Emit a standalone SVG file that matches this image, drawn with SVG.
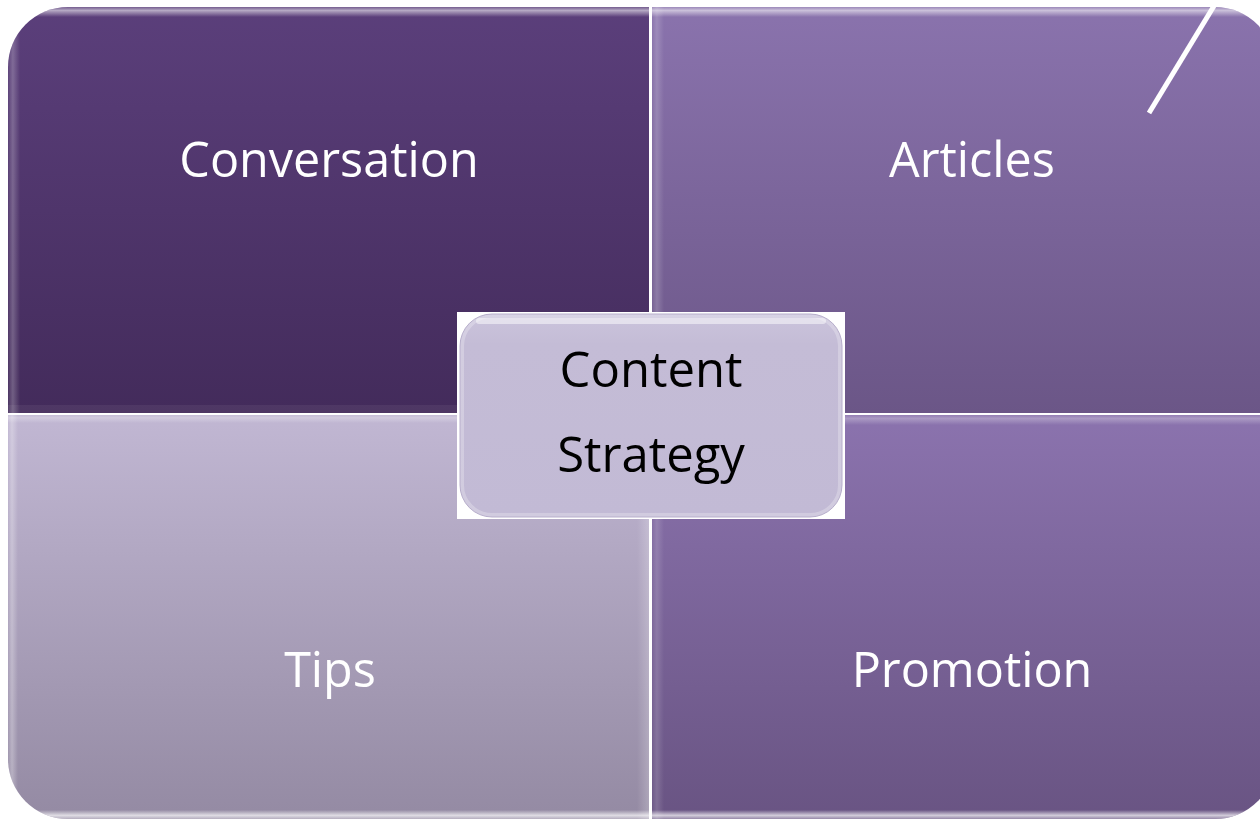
<svg xmlns="http://www.w3.org/2000/svg" width="1260" height="822" viewBox="0 0 1260 822">
  <style>
    .lbl { font-family: "Open Sans", "Liberation Sans", sans-serif; font-size: 48.5px; fill: #ffffff; text-anchor: middle; }
    .core { font-family: "Open Sans", "Liberation Sans", sans-serif; font-size: 49px; fill: #000000; text-anchor: middle; }
    .hi { fill: #ffffff; }
  </style>
  <defs>
    <linearGradient id="gTL" x1="0" y1="0" x2="0" y2="1">
      <stop offset="0" stop-color="#5b3f7b"/>
      <stop offset="1" stop-color="#432b5b"/>
    </linearGradient>
    <linearGradient id="gTR" x1="0" y1="0" x2="0" y2="1">
      <stop offset="0" stop-color="#8a73ad"/>
      <stop offset="1" stop-color="#6b5687"/>
    </linearGradient>
    <linearGradient id="gBL" x1="0" y1="0" x2="0" y2="1">
      <stop offset="0" stop-color="#c1b7d3"/>
      <stop offset="1" stop-color="#948aa3"/>
    </linearGradient>
    <linearGradient id="gBR" x1="0" y1="0" x2="0" y2="1">
      <stop offset="0" stop-color="#8b73ae"/>
      <stop offset="1" stop-color="#695483"/>
    </linearGradient>
    <!-- soft glints along the bevelled tile edges -->
    <linearGradient id="gTop" x1="0" y1="0" x2="0" y2="1">
      <stop offset="0" stop-color="#ffffff" stop-opacity="0.15"/>
      <stop offset="0.35" stop-color="#ffffff" stop-opacity="0.55"/>
      <stop offset="1" stop-color="#ffffff" stop-opacity="0"/>
    </linearGradient>
    <linearGradient id="gBot" x1="0" y1="0" x2="0" y2="1">
      <stop offset="0" stop-color="#ffffff" stop-opacity="0"/>
      <stop offset="0.6" stop-color="#ffffff" stop-opacity="0.7"/>
      <stop offset="1" stop-color="#ffffff" stop-opacity="0.3"/>
    </linearGradient>
    <linearGradient id="gLeft" x1="0" y1="0" x2="1" y2="0">
      <stop offset="0" stop-color="#ffffff" stop-opacity="0.05"/>
      <stop offset="0.4" stop-color="#ffffff" stop-opacity="0.3"/>
      <stop offset="1" stop-color="#ffffff" stop-opacity="0"/>
    </linearGradient>
    <linearGradient id="gRight" x1="0" y1="0" x2="1" y2="0">
      <stop offset="0" stop-color="#ffffff" stop-opacity="0"/>
      <stop offset="1" stop-color="#ffffff" stop-opacity="0.22"/>
    </linearGradient>
    <linearGradient id="gCore" x1="0" y1="0" x2="0" y2="1">
      <stop offset="0" stop-color="#cbc4dc"/>
      <stop offset="0.15" stop-color="#c4bcd6"/>
      <stop offset="1" stop-color="#c2bad5"/>
    </linearGradient>
    <clipPath id="cTL"><path id="pTL" d="M8,67 A60,60 0 0 1 68,7 L649,7 L649,413 L8,413 Z"/></clipPath>
    <clipPath id="cTR"><path id="pTR" d="M652,7 L1215,7 A60,60 0 0 1 1275,67 L1275,413 L652,413 Z"/></clipPath>
    <clipPath id="cBL"><path id="pBL" d="M8,415 L649,415 L649,819 L68,819 A60,60 0 0 1 8,759 Z"/></clipPath>
    <clipPath id="cBR"><path id="pBR" d="M652,415 L1275,415 L1275,759 A60,60 0 0 1 1215,819 L652,819 Z"/></clipPath>
    <clipPath id="cCore"><rect x="460" y="314" width="382" height="203" rx="32"/></clipPath>
  </defs>

  <rect width="1260" height="822" fill="#ffffff"/>

  <g id="node-conversation">
    <use href="#pTL" fill="url(#gTL)"/>
    <g clip-path="url(#cTL)">
      <rect x="8" y="7" width="641" height="10" fill="url(#gTop)"/>
      <rect x="8" y="7" width="12" height="406" fill="url(#gLeft)" opacity="0.8"/>
      <rect x="8" y="405" width="641" height="8" fill="#ffffff" opacity="0.06"/>
    </g>
    <text class="lbl" x="329" y="177">Conversation</text>
  </g>

  <g id="node-articles">
    <use href="#pTR" fill="url(#gTR)"/>
    <g clip-path="url(#cTR)">
      <rect x="652" y="7" width="623" height="10" fill="url(#gTop)"/>
      <rect x="652" y="7" width="12" height="406" fill="url(#gLeft)" opacity="0.6"/>
    </g>
    <text class="lbl" x="972" y="177">Articles</text>
  </g>

  <g id="node-tips">
    <use href="#pBL" fill="url(#gBL)"/>
    <g clip-path="url(#cBL)">
      <rect x="8" y="415" width="641" height="8" fill="url(#gTop)" opacity="0.5"/>
      <rect x="8" y="415" width="10" height="404" fill="url(#gLeft)"/>
      <rect x="637" y="415" width="12" height="404" fill="url(#gRight)"/>
      <rect x="8" y="810" width="641" height="9" fill="url(#gBot)"/>
    </g>
    <text class="lbl" x="330" y="687">Tips</text>
  </g>

  <g id="node-promotion">
    <use href="#pBR" fill="url(#gBR)"/>
    <g clip-path="url(#cBR)">
      <rect x="652" y="415" width="623" height="10" fill="url(#gTop)" opacity="0.5"/>
      <rect x="652" y="415" width="12" height="404" fill="url(#gLeft)" opacity="0.5"/>
      <rect x="652" y="810" width="623" height="9" fill="url(#gBot)"/>
    </g>
    <text class="lbl" x="972" y="687">Promotion</text>
  </g>

  <g id="connectors">
    <line x1="1149" y1="113" x2="1220" y2="-4" stroke="#ffffff" stroke-width="5"/>
  </g>

  <g id="node-content-strategy">
    <rect x="457" y="312" width="388" height="207" fill="#ffffff"/>
    <rect x="460" y="314" width="382" height="203" rx="32" fill="url(#gCore)"/>
    <g clip-path="url(#cCore)">
      <rect x="476" y="318" width="350" height="6" rx="3" class="hi" opacity="0.5"/>
      <rect x="460" y="314" width="382" height="203" rx="32" fill="none" stroke="#ffffff" stroke-opacity="0.25" stroke-width="8"/>
    </g>
    <rect x="460" y="314" width="382" height="203" rx="32" fill="none" stroke="#b7aecb" stroke-width="1"/>
    <text class="core" x="651" y="387">Content</text>
    <text class="core" x="651" y="472">Strategy</text>
  </g>
</svg>
